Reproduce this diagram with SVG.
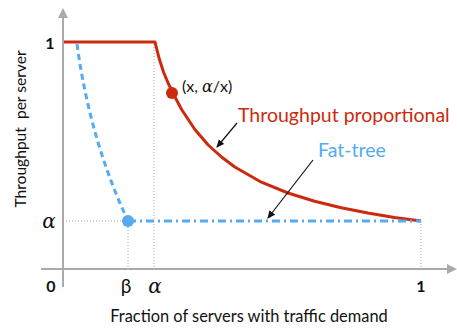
<svg xmlns="http://www.w3.org/2000/svg" width="457" height="331" viewBox="0 0 457 331">
  <style>
    .axis { stroke: #aaaaaa; stroke-width: 2; fill: none; }
    .guide { stroke: #aaaaaa; stroke-width: 1; stroke-dasharray: 1 2; fill: none; }
    .red { stroke: #cc2a0c; stroke-width: 3; fill: none; stroke-linejoin: round; }
    .blue { stroke: #55aaf0; stroke-width: 3; fill: none; }
    .lbl { font-family: Lato, "Open Sans", "DejaVu Sans", sans-serif; }
    .num { font-family: Lato, "Open Sans", sans-serif; font-weight: bold; font-size: 16px; fill: #111; }
    .math { font-family: "DejaVu Serif", "Liberation Serif", serif; font-style: italic; fill: #111; }
    .pointer { stroke: #111; stroke-width: 1.2; fill: none; }
  </style>
  <defs>
    <marker id="axhead" markerWidth="10" markerHeight="10" refX="8" refY="5" orient="auto" markerUnits="userSpaceOnUse">
      <path d="M0,0 L10,5 L0,10 Z" fill="#aaaaaa"/>
    </marker>
    <marker id="ptr" markerWidth="8" markerHeight="8" refX="7" refY="4" orient="auto" markerUnits="userSpaceOnUse">
      <path d="M0,0.5 L8,4 L0,7.5 Z" fill="#111"/>
    </marker>
  </defs>

  <!-- guide lines -->
  <g id="guides">
    <line class="guide" x1="154" y1="44" x2="154" y2="269"/>
    <line class="guide" x1="128" y1="221" x2="128" y2="269"/>
    <line class="guide" x1="63" y1="221" x2="128" y2="221"/>
    <line class="guide" x1="421" y1="221" x2="421" y2="269"/>
  </g>

  <!-- axes -->
  <g id="axes">
    <line class="axis" x1="63" y1="287" x2="63" y2="10" marker-end="url(#axhead)"/>
    <line class="axis" x1="41" y1="269" x2="455" y2="269" marker-end="url(#axhead)"/>
  </g>

  <!-- throughput-proportional curve -->
  <g id="tp-curve">
    <path class="red" d="M64,42 L155,42 L159,58 L163.5,72 L168.3,83.5 L175,97 L181.6,109.5 L194.9,129.5 L208.2,145 L221.5,157 L234.8,167 L261.4,182.2 L288,193 L314.6,201.3 L341.2,207.7 L367.8,213 L394.4,217.4 L421,221"/>
    <circle cx="172" cy="93" r="6" fill="#cc2a0c"/>
  </g>

  <!-- fat-tree curve -->
  <g id="fat-tree">
    <path class="blue" d="M77,44 Q90,140 128,221" stroke-dasharray="6 4"/>
    <line class="blue" x1="128" y1="221" x2="421" y2="221" stroke-dasharray="8 4 2 4"/>
    <circle cx="128" cy="221" r="6" fill="#55aaf0"/>
  </g>

  <!-- pointers -->
  <g id="connectors">
    <line class="pointer" x1="237" y1="123" x2="217" y2="147" marker-end="url(#ptr)"/>
    <line class="pointer" x1="313" y1="160" x2="268" y2="218" marker-end="url(#ptr)"/>
  </g>

  <!-- labels -->
  <g id="labels">
    <text class="lbl" x="182" y="92" font-size="16" fill="#111">(x, <tspan class="math">α</tspan>/x)</text>
    <text id="tp-label" class="lbl" x="238" y="122" font-size="19.5" fill="#cc2a0c">Throughput proportional</text>
    <text id="ft-label" class="lbl" x="318" y="157" font-size="19.5" fill="#55aaf0">Fat-tree</text>
    <text class="num" x="50" y="49" text-anchor="middle">1</text>
    <text class="math" x="49" y="228" font-size="20" text-anchor="middle">α</text>
    <text class="num" x="51" y="292" text-anchor="middle">0</text>
    <text class="lbl" x="126" y="293" font-size="19" fill="#111" text-anchor="middle">β</text>
    <text class="math" x="155" y="293" font-size="20" text-anchor="middle">α</text>
    <text class="num" x="421" y="292" text-anchor="middle">1</text>
    <text class="lbl" x="249" y="322" font-size="16.4" fill="#111" text-anchor="middle">Fraction of servers with traffic demand</text>
    <text class="lbl" transform="translate(26,129) rotate(-90)" font-size="15.6" fill="#111" text-anchor="middle" xml:space="preserve">Throughput  per server</text>
  </g>
</svg>
